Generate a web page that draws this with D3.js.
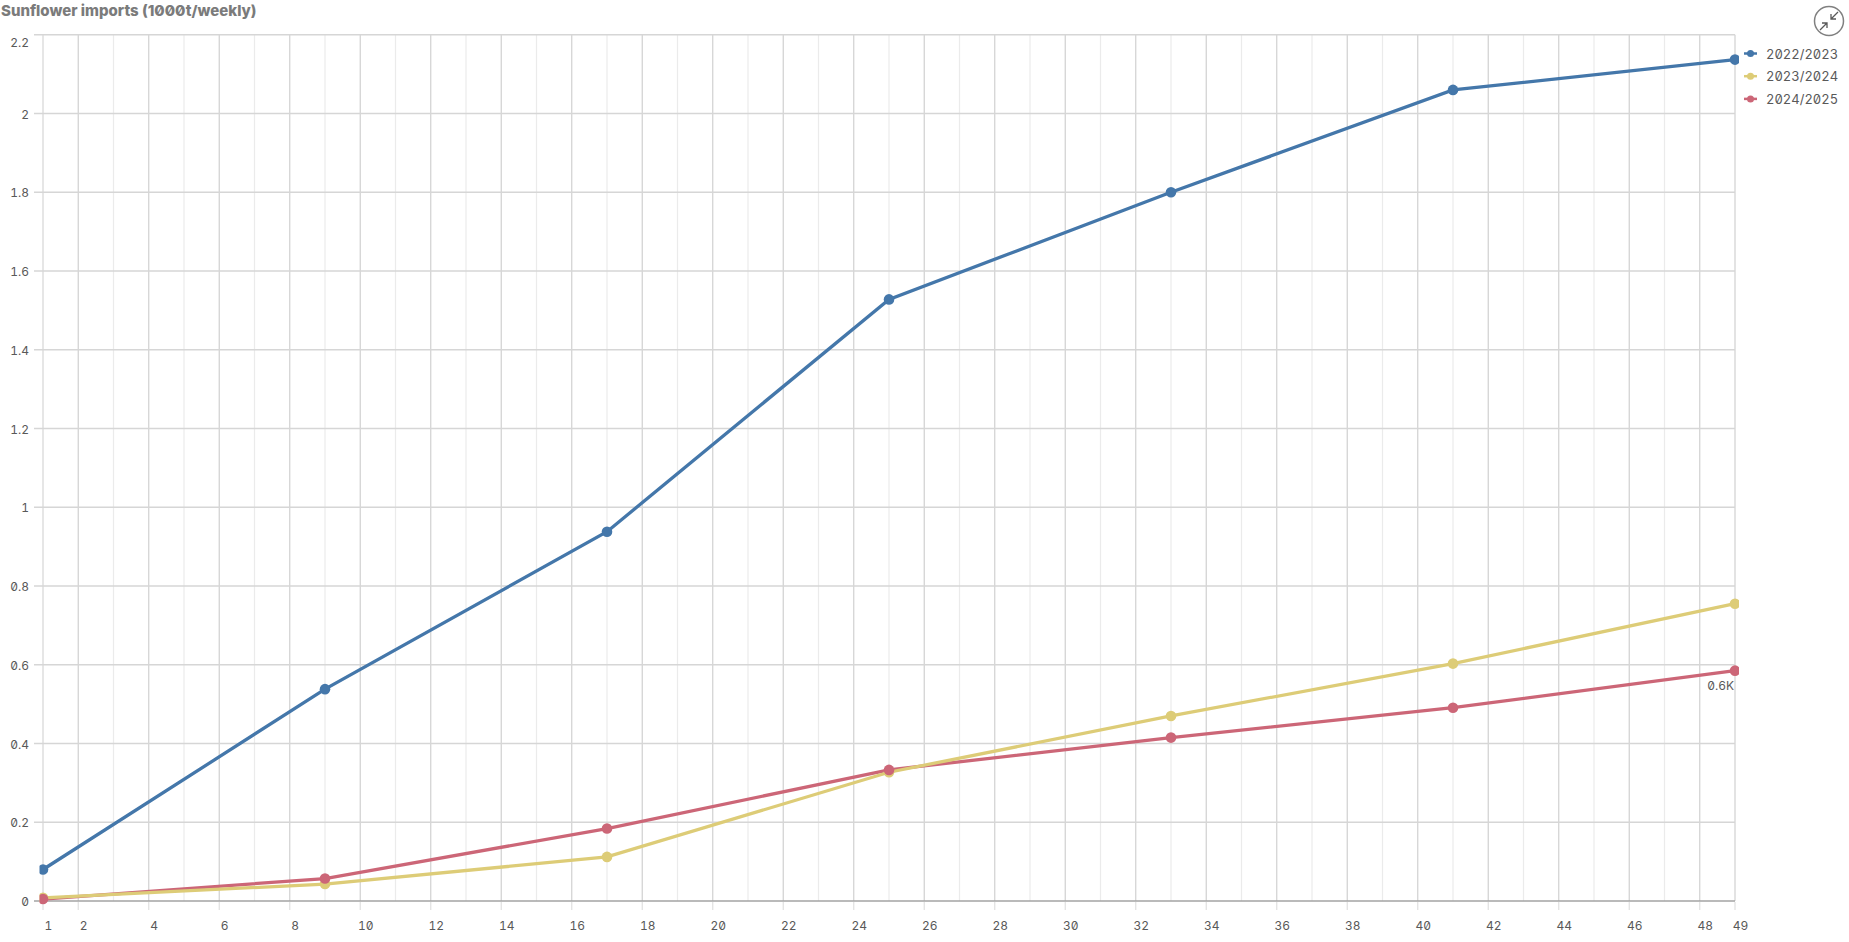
<!DOCTYPE html>
<html>
<head>
<meta charset="utf-8">
<script src="https://cdn.jsdelivr.net/npm/d3@7"></script>
<style>
html, body { margin: 0; padding: 0; background: #fff; overflow: hidden; }
text { font-family: Inter, "DejaVu Sans Mono", monospace; font-feature-settings: "tnum", "zero"; fill: #595959; }
.title { font-family: Inter, "Open Sans", sans-serif; font-feature-settings: "zero"; font-weight: 800; font-size: 15px; fill: #7b7b7b; }
</style>
</head>
<body>
<svg width="1849" height="942"></svg>
<script>
var weeks = [1, 9, 17, 25, 33, 41, 49]
var season2223 = [0.08, 0.538, 0.938, 1.528, 1.80, 2.06, 2.137]
var season2324 = [0.008, 0.043, 0.112, 0.327, 0.47, 0.603, 0.755]
var season2425 = [0.005, 0.057, 0.184, 0.333, 0.415, 0.491, 0.585]
var seasonNames = ["2022/2023", "2023/2024", "2024/2025"]
var seasonColors = ["#4477aa", "#ddcc77", "#cc6677"]
var yTicks = [0, 0.2, 0.4, 0.6, 0.8, 1, 1.2, 1.4, 1.6, 1.8, 2, 2.2]
var xTicks = [1, 2].concat(d3.range(4, 50, 2), [49])

var svg = d3.select("svg")
var x = d3.scaleLinear().domain([1, 49]).range([43, 1735])
var y = d3.scaleLinear().domain([0, 2.2]).range([901, 34.8])

svg.append("text").attr("class", "title")
    .attr("x", 1).attr("y", 16)
    .text("Sunflower imports (1000t/weekly)")

// vertical grid, every week, even weeks darker
var g = svg.append("g")
g.selectAll(".vgrid").data(d3.range(1, 50)).enter().append("line")
    .attr("x1", d => x(d)).attr("x2", d => x(d))
    .attr("y1", y(2.2)).attr("y2", y(0))
    .attr("stroke", d => d == 1 ? "#e0e0e0" : (d % 2 == 0 || d == 49) ? "#d0d0d0" : "#ebebeb")
    .attr("stroke-width", d => d == 1 ? 1.6 : 1.2)

var yAxis = d3.axisLeft(y).tickValues(yTicks).tickSize(0).tickPadding(5)
    .tickFormat(d => String(d))
var yG = svg.append("g").attr("transform", "translate(34,0)").call(yAxis)
yG.select(".domain").remove()
// top label sits below its gridline
yG.selectAll("text").style("font-size", "12px").attr("dy", d => d == 2.2 ? 11.5 : 4.5)

g.selectAll(".hgrid").data(yTicks).enter().append("line")
    .attr("x1", 34).attr("x2", x(49))
    .attr("y1", d => y(d)).attr("y2", d => y(d))
    .attr("stroke", d => d == 0 ? "#a3a3a3" : "#d6d6d6")
    .attr("stroke-width", 1.5)

var xAxis = d3.axisBottom(x).tickValues(xTicks).tickSize(0).tickPadding(0)
    .tickFormat(d => d)
var xG = svg.append("g").attr("transform", "translate(0,921)").call(xAxis)
xG.select(".domain").remove()
xG.selectAll("text").style("font-size", "12px").attr("dx", 5)

g.selectAll(".xtick").data(xTicks).enter().append("line")
    .attr("x1", d => x(d)).attr("x2", d => x(d))
    .attr("y1", 902).attr("y2", 910)
    .attr("stroke", "#e0e0e0").attr("stroke-width", 1.2)

// marks stop a few px outside the plot, end dots get cut off
svg.append("clipPath").attr("id", "plotClip").append("rect")
    .attr("x", 39.5).attr("y", 20).attr("width", 1699.5).attr("height", 900)
var marks = svg.append("g").attr("clip-path", "url(#plotClip)")

var line = d3.line().x((d, i) => x(weeks[i])).y(d => y(d))
var allSeries = [season2223, season2324, season2425]

// yellow line runs over the red one, dots the other way round
;[0, 2, 1].forEach(function(s) {
    marks.append("path").attr("d", line(allSeries[s]))
        .attr("fill", "none").attr("stroke", seasonColors[s]).attr("stroke-width", 3.3)
})
allSeries.forEach(function(values, s) {
    marks.selectAll(".dot" + s).data(values).enter().append("circle")
        .attr("cx", (d, i) => x(weeks[i])).attr("cy", d => y(d))
        .attr("r", 5.3).attr("fill", seasonColors[s])
})

svg.append("text").attr("x", x(49) - 1).attr("y", 690)
    .attr("text-anchor", "end").style("font-size", "12px")
    .text("0.6K")

// legend
seasonNames.forEach(function(name, i) {
    var ly = 53.5 + i * 22.7
    svg.append("line").attr("x1", 1744).attr("x2", 1757).attr("y1", ly).attr("y2", ly)
        .attr("stroke", seasonColors[i]).attr("stroke-width", 2.5)
    svg.append("circle").attr("cx", 1750.5).attr("cy", ly).attr("r", 3.5).attr("fill", seasonColors[i])
    svg.append("text").attr("x", 1766).attr("y", ly + 5)
        .style("font-size", "13px").text(name)
})

// collapse button
var btn = svg.append("g").attr("transform", "translate(1829,21)")
btn.append("circle").attr("r", 14.5).attr("fill", "#fff").attr("stroke", "#808080").attr("stroke-width", 1.5)
btn.append("path").attr("d", "M2,-2L9,-9M2,-7L2,-2L7,-2M-2,2L-9,9M-7,2L-2,2L-2,7")
    .attr("fill", "none").attr("stroke", "#595959").attr("stroke-width", 1.3)
</script>
</body>
</html>
